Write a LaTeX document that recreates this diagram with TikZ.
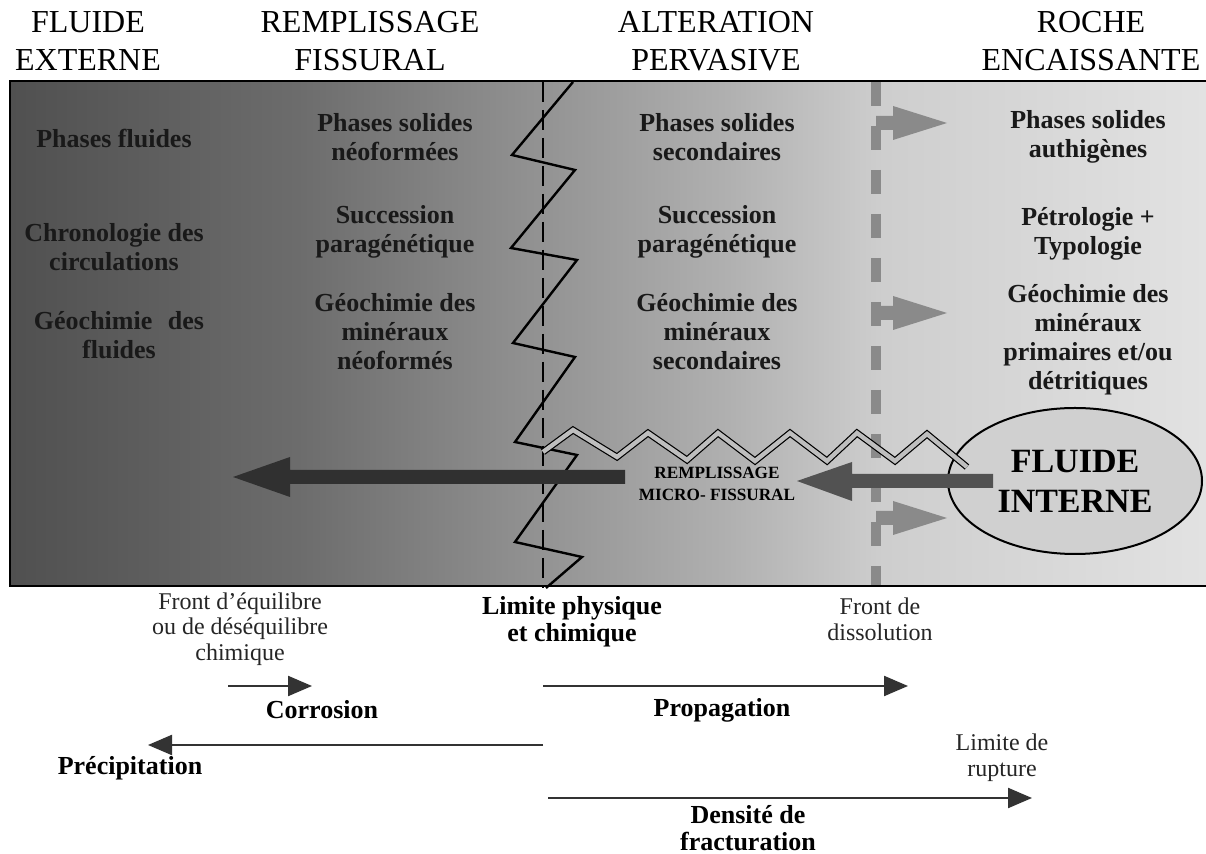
\documentclass[tikz,border=0pt]{standalone}
\usepackage{fontspec}
\setmainfont{Liberation Serif}
\usetikzlibrary{arrows.meta,shapes.geometric}
\definecolor{ga}{RGB}{80,80,80}
\definecolor{gb}{RGB}{108,108,108}
\definecolor{gc}{RGB}{146,146,146}
\definecolor{gd}{RGB}{176,176,176}
\definecolor{ge}{RGB}{206,206,206}
\definecolor{gf}{RGB}{226,226,226}
\definecolor{darkarrow}{RGB}{48,48,48}
\definecolor{midarrow}{RGB}{82,82,82}
\definecolor{dashgray}{RGB}{138,138,138}
\definecolor{fissfill}{RGB}{190,190,190}
\definecolor{ellfill}{RGB}{208,208,208}
\pgfdeclarehorizontalshading{bgshade}{100bp}{color(0bp)=(ga); color(25bp)=(ga); color(37bp)=(gb); color(47bp)=(gc); color(55bp)=(gd); color(61.5bp)=(ge); color(75bp)=(gf); color(100bp)=(gf)}
\begin{document}
\begin{tikzpicture}[x=0.5pt,y=-0.5pt,
  hdr/.style={align=center,font=\fontsize{16}{19}\selectfont,inner sep=0pt},
  inbox/.style={align=center,font=\bfseries\fontsize{13}{14.5}\selectfont,inner sep=0pt,text=black!90},
  lowr/.style={align=center,font=\fontsize{12}{12.8}\selectfont,inner sep=0pt,text=black!85},
  lowb/.style={align=center,font=\bfseries\fontsize{13}{13.5}\selectfont,inner sep=0pt},
  thinarrow/.style={line width=1.1pt,draw=black!80,-{Triangle[length=12pt,width=10pt]}},
  grayarrow/.style={fill=dashgray},
]
\useasboundingbox (0,0) rectangle (1206,854);
\fill[white] (0,0) rectangle (1206,854);
% background band
\shade[shading=bgshade] (10,81) rectangle (1206,586);
\draw[line width=1pt] (1206,81) -- (10,81) -- (10,586) -- (1206,586);

% headers
\node[hdr] (h1) at (88,41) {FLUIDE\\EXTERNE};
\node[hdr] (h2) at (370,41) {REMPLISSAGE\\FISSURAL};
\node[hdr] (h3) at (716,41) {ALTERATION\\PERVASIVE};
\node[hdr] (h4) at (1091,41) {ROCHE\\ENCAISSANTE};

% thin dashed limit
\draw[line width=0.9pt,dash pattern=on 10pt off 4pt] (543,82) -- (543,588);
% thick gray dashed front
\draw[line width=5pt,draw=dashgray,dash pattern=on 12pt off 10pt] (876,82) -- (876,585);
% gray block arrows
\foreach \c in {123,313,518}{
  \fill[grayarrow] (876,\c-7) -- (893,\c-7) -- (893,\c-17) -- (947,\c) -- (893,\c+17) -- (893,\c+7) -- (876,\c+7) -- cycle;
}

% main fissure
\draw[line width=1.2pt,line join=miter] (573,82) -- (512,155) -- (575,170) -- (511,248) -- (577,260) -- (513,343) -- (575,357) -- (515,442) -- (577,455) -- (515,542) -- (582,557) -- (546,588);

% column texts
\node[inbox] (c1a) at (114,139) {Phases fluides};
\node[inbox] (c1b) at (114,247) {Chronologie des\\circulations};
\node[inbox] (c1c) at (119,335) {Géochimie\hspace{0.35em} des\\fluides};

\node[inbox] (c2a) at (395,137) {Phases solides\\néoformées};
\node[inbox] (c2b) at (395,232) {Succession\\paragénétique};
\node[inbox] (c2c) at (395,332) {Géochimie des\\minéraux\\néoformés};

\node[inbox] (c3a) at (717,137) {Phases solides\\secondaires};
\node[inbox] (c3b) at (717,232) {Succession\\paragénétique};
\node[inbox] (c3c) at (717,332) {Géochimie des\\minéraux\\secondaires};

\node[inbox] (c4a) at (1088,137) {Phases solides\\authigènes};
\node[inbox] (c4b) at (1088,234) {Pétrologie +\\Typologie};
\node[inbox] (c4c) at (1088,340) {Géochimie des\\minéraux\\primaires et/ou\\détritiques};

% fluide interne
\node[ellipse,draw,line width=1pt,fill=ellfill,minimum width=127pt,minimum height=73pt,inner sep=0pt,
      align=center,font=\bfseries\fontsize{17}{20}\selectfont] (fi) at (1075,481) {FLUIDE\\INTERNE};

% micro fissure (double line)
\draw[line width=0.6pt,double=fissfill,double distance=2.2pt,line join=miter]
  (543,452) -- (573,430) -- (617,457) -- (648,433) -- (687,460) -- (718,433) -- (755,461) -- (790,433) -- (827,461) -- (857,433) -- (895,461) -- (927,434) -- (967,467);

% big arrows
\fill[darkarrow] (625,470) -- (290,470) -- (290,457) -- (233,477) -- (290,497) -- (290,484) -- (625,484) -- cycle;
\fill[midarrow] (993,474) -- (852,474) -- (852,462) -- (797,481) -- (852,501) -- (852,488) -- (993,488) -- cycle;

\node[align=center,font=\bfseries\fontsize{8.6}{11}\selectfont,inner sep=0pt] (mf) at (717,484) {REMPLISSAGE\\MICRO- FISSURAL};

% lower labels
\node[lowr] (fe) at (240,629) {Front d’équilibre\\ou de déséquilibre\\chimique};
\node[lowb] (lp) at (572,622) {Limite physique\\et chimique};
\node[lowr] (fd) at (880,619) {Front de\\dissolution};

\coordinate (ca) at (228,686); \coordinate (cb) at (312,686);
\draw[thinarrow] (ca) -- (cb);
\node[lowb] (co) at (322,710) {Corrosion};

\coordinate (pa) at (543,686); \coordinate (pb) at (908,686);
\draw[thinarrow] (pa) -- (pb);
\node[lowb] (pr) at (722,710) {Propagation};

\coordinate (qa) at (543,745); \coordinate (qb) at (148,745);
\draw[thinarrow] (qa) -- (qb);
\node[lowb] (pc) at (130,768) {Précipitation};

\node[lowr] (lr) at (1002,758) {Limite de\\rupture};

\coordinate (da) at (548,798); \coordinate (db) at (1032,798);
\draw[thinarrow] (da) -- (db);
\node[lowb] (df) at (748,828) {Densité de\\fracturation};
\end{tikzpicture}
\end{document}
